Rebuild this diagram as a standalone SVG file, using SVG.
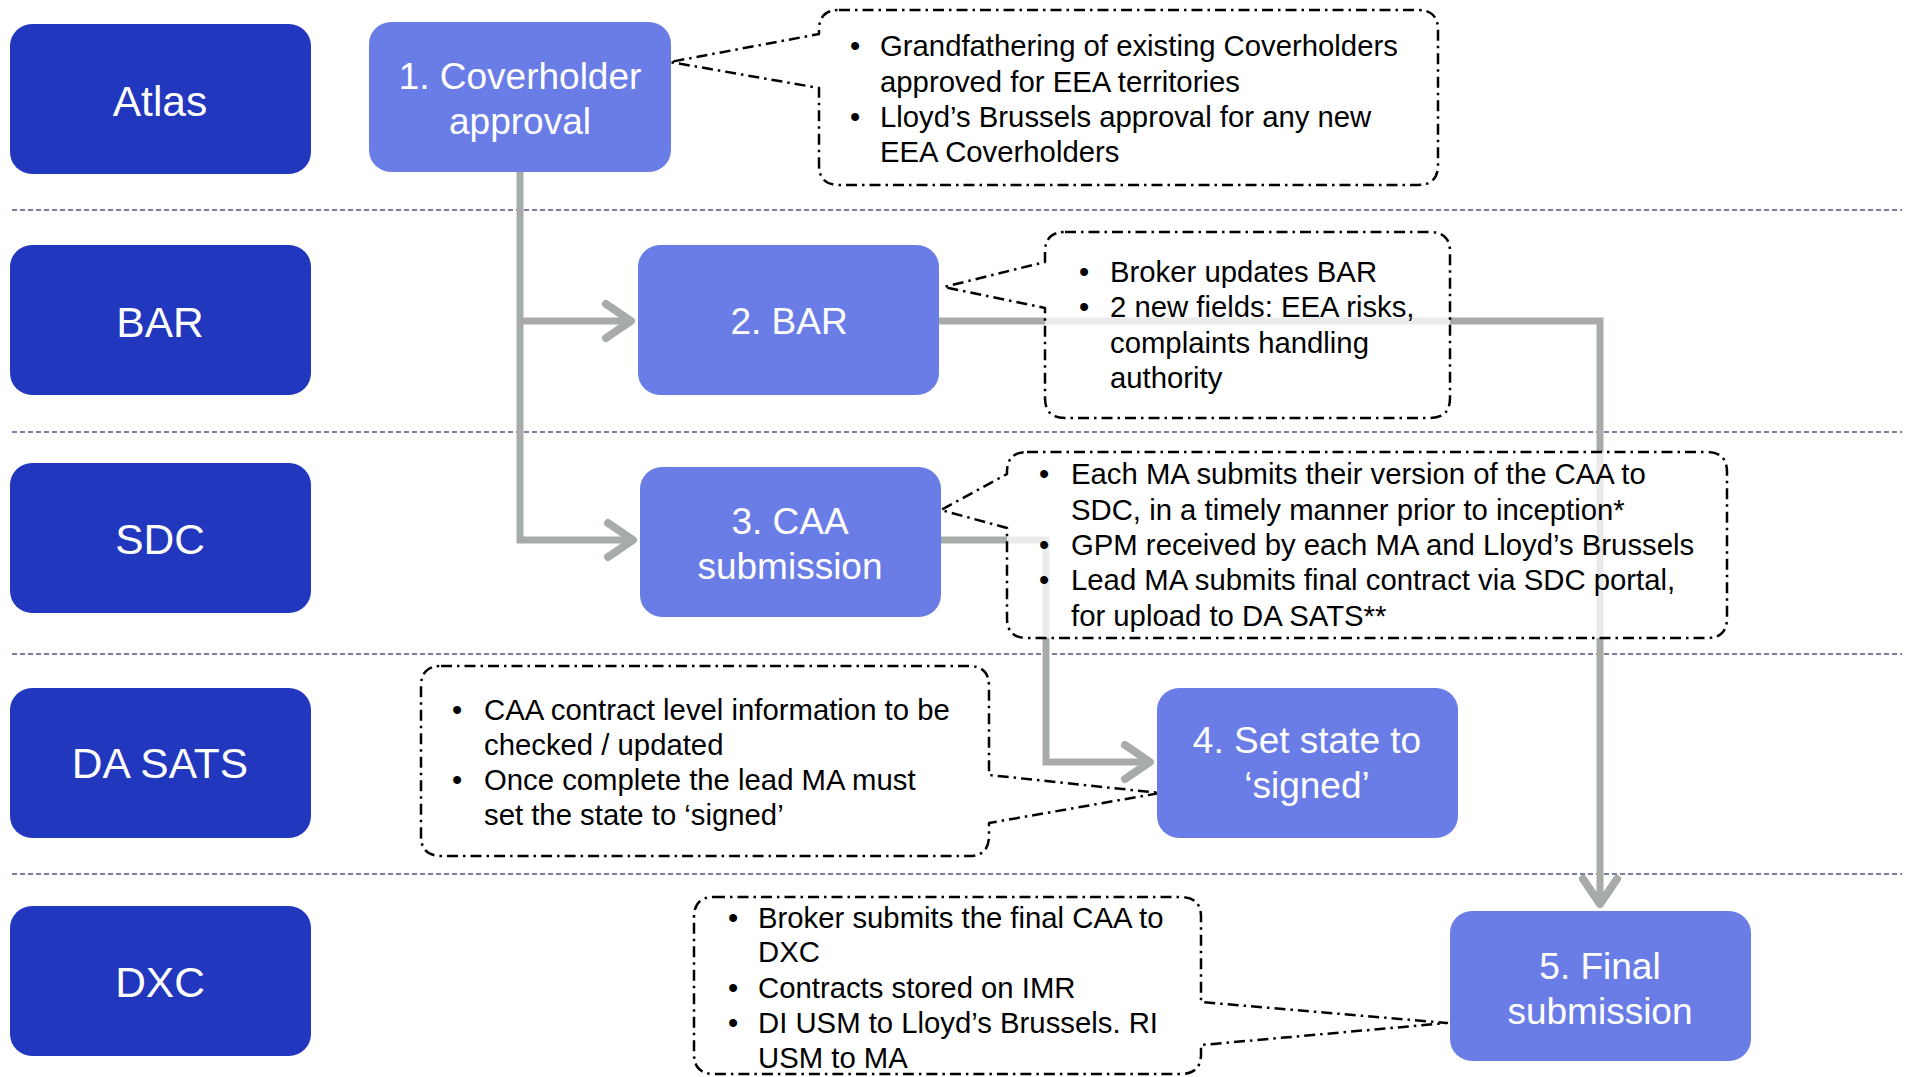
<svg xmlns="http://www.w3.org/2000/svg" width="1912" height="1077" viewBox="0 0 1912 1077">
<defs>
<style>
.lane{fill:#2137BE}
.proc{fill:#6A7DE6}
.lt{font-family:"Liberation Sans",Arial,sans-serif;font-size:42.5px;fill:#fff;text-anchor:middle}
.pt{font-family:"Liberation Sans",Arial,sans-serif;font-size:37px;fill:#fff;text-anchor:middle}
.ct{font-family:"Liberation Sans",Arial,sans-serif;font-size:29.3px;fill:#000}
.sep{stroke:#4E5882;stroke-width:1.5;stroke-dasharray:5 3;fill:none}
.conn{stroke:#A7ACA9;stroke-width:7;fill:none}
.call{fill:#fff;fill-opacity:0.75;stroke:#000;stroke-width:2.5;stroke-dasharray:11 5 2.5 5;stroke-linejoin:round}
</style>
<marker id="arr" markerUnits="userSpaceOnUse" markerWidth="40" markerHeight="44" viewBox="0 0 40 44" refX="32" refY="22" orient="auto">
<path d="M6,5 L31,22 L6,39" fill="none" stroke="#A7ACA9" stroke-width="8" stroke-linecap="round" stroke-linejoin="round"/>
</marker>
</defs>
<rect width="1912" height="1077" fill="#fff"/>
<g id="separators">
<line class="sep" x1="12" y1="210" x2="1902" y2="210"/>
<line class="sep" x1="12" y1="432" x2="1902" y2="432"/>
<line class="sep" x1="12" y1="654" x2="1902" y2="654"/>
<line class="sep" x1="12" y1="874" x2="1902" y2="874"/>
</g>
<g id="lane-atlas"><rect class="lane" x="10" y="24" width="301" height="150" rx="22"/><text class="lt" x="160" y="116">Atlas</text></g>
<g id="lane-bar"><rect class="lane" x="10" y="245" width="301" height="150" rx="22"/><text class="lt" x="160" y="337">BAR</text></g>
<g id="lane-sdc"><rect class="lane" x="10" y="463" width="301" height="150" rx="22"/><text class="lt" x="160" y="554">SDC</text></g>
<g id="lane-dasats"><rect class="lane" x="10" y="688" width="301" height="150" rx="22"/><text class="lt" x="160" y="778">DA SATS</text></g>
<g id="lane-dxc"><rect class="lane" x="10" y="906" width="301" height="150" rx="22"/><text class="lt" x="160" y="997">DXC</text></g>
<g id="connectors">
<path class="conn" d="M520,172 V540 H634" marker-end="url(#arr)"/>
<path class="conn" d="M520,321 H632" marker-end="url(#arr)"/>
<path class="conn" d="M939,321 H1600 V905" marker-end="url(#arr)"/>
<path class="conn" d="M941,540 H1046 V762 H1151" marker-end="url(#arr)"/>
</g>
<g id="callout-1">
<path class="call" d="M839,10 H1418 Q1438,10 1438,30 V165 Q1438,185 1418,185 H839 Q819,185 819,165 V88 L670,62 L819,34 V30 Q819,10 839,10 Z"/>
<text class="ct" y="56"><tspan x="850">•</tspan><tspan x="880">Grandfathering of existing Coverholders</tspan></text>
<text class="ct" x="880" y="92">approved for EEA territories</text>
<text class="ct" y="127"><tspan x="850">•</tspan><tspan x="880">Lloyd’s Brussels approval for any new</tspan></text>
<text class="ct" x="880" y="162">EEA Coverholders</text>
</g>
<g id="callout-2">
<path class="call" d="M1065,232 H1430 Q1450,232 1450,252 V398 Q1450,418 1430,418 H1065 Q1045,418 1045,398 V308 L944,287 L1045,262 V252 Q1045,232 1065,232 Z"/>
<text class="ct" y="282"><tspan x="1079">•</tspan><tspan x="1110">Broker updates BAR</tspan></text>
<text class="ct" y="317"><tspan x="1079">•</tspan><tspan x="1110">2 new fields: EEA risks,</tspan></text>
<text class="ct" x="1110" y="353">complaints handling</text>
<text class="ct" x="1110" y="388">authority</text>
</g>
<g id="callout-3">
<path class="call" d="M1027,452 H1707 Q1727,452 1727,472 V618 Q1727,638 1707,638 H1027 Q1007,638 1007,618 V528 L941,510 L1007,474 V472 Q1007,452 1027,452 Z"/>
<text class="ct" y="484"><tspan x="1039">•</tspan><tspan x="1071">Each MA submits their version of the CAA to</tspan></text>
<text class="ct" x="1071" y="520">SDC, in a timely manner prior to inception*</text>
<text class="ct" y="555"><tspan x="1039">•</tspan><tspan x="1071">GPM received by each MA and Lloyd’s Brussels</tspan></text>
<text class="ct" y="590"><tspan x="1039">•</tspan><tspan x="1071">Lead MA submits final contract via SDC portal,</tspan></text>
<text class="ct" x="1071" y="626">for upload to DA SATS**</text>
</g>
<g id="callout-4">
<path class="call" d="M441,666 H969 Q989,666 989,686 V775 L1160,793 L989,823 V836 Q989,856 969,856 H441 Q421,856 421,836 V686 Q421,666 441,666 Z"/>
<text class="ct" y="720"><tspan x="452">•</tspan><tspan x="484">CAA contract level information to be</tspan></text>
<text class="ct" x="484" y="755">checked / updated</text>
<text class="ct" y="790"><tspan x="452">•</tspan><tspan x="484">Once complete the lead MA must</tspan></text>
<text class="ct" x="484" y="825">set the state to ‘signed’</text>
</g>
<g id="callout-5">
<path class="call" d="M714,897 H1181 Q1201,897 1201,917 V1002 L1447,1023 L1201,1045 V1054 Q1201,1074 1181,1074 H714 Q694,1074 694,1054 V917 Q694,897 714,897 Z"/>
<text class="ct" y="928"><tspan x="728">•</tspan><tspan x="758">Broker submits the final CAA to</tspan></text>
<text class="ct" x="758" y="962">DXC</text>
<text class="ct" y="998"><tspan x="728">•</tspan><tspan x="758">Contracts stored on IMR</tspan></text>
<text class="ct" y="1033"><tspan x="728">•</tspan><tspan x="758">DI USM to Lloyd’s Brussels. RI</tspan></text>
<text class="ct" x="758" y="1068">USM to MA</text>
</g>
<g id="node-1"><rect class="proc" x="369" y="22" width="302" height="150" rx="22"/><text class="pt" x="520" y="89">1. Coverholder</text><text class="pt" x="520" y="134">approval</text></g>
<g id="node-2"><rect class="proc" x="638" y="245" width="301" height="150" rx="22"/><text class="pt" x="789" y="334">2. BAR</text></g>
<g id="node-3"><rect class="proc" x="640" y="467" width="301" height="150" rx="22"/><text class="pt" x="790" y="534">3. CAA</text><text class="pt" x="790" y="579">submission</text></g>
<g id="node-4"><rect class="proc" x="1157" y="688" width="301" height="150" rx="22"/><text class="pt" x="1307" y="753">4. Set state to</text><text class="pt" x="1307" y="798">‘signed’</text></g>
<g id="node-5"><rect class="proc" x="1450" y="911" width="301" height="150" rx="22"/><text class="pt" x="1600" y="979">5. Final</text><text class="pt" x="1600" y="1024">submission</text></g>
</svg>
